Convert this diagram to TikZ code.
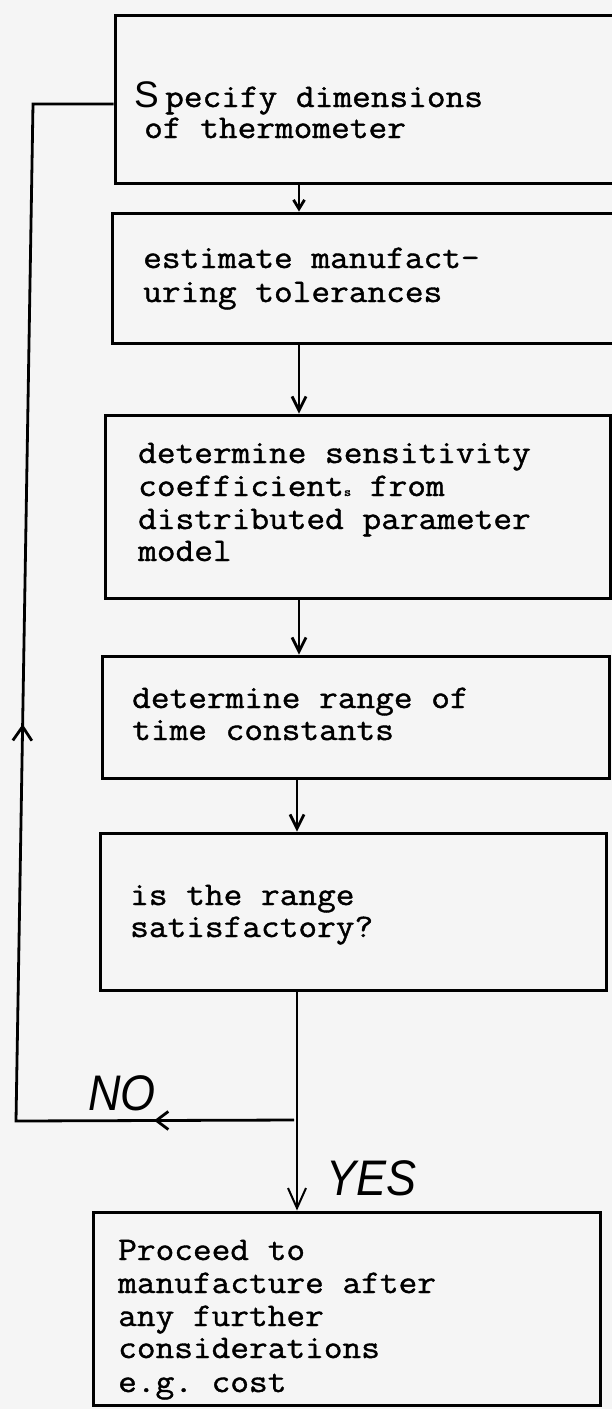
\documentclass[tikz,border=0pt]{standalone}
\usepackage{fontspec}
\setmonofont{Latin Modern Mono}[FakeStretch=1.1, FakeBold=1.2]
\newfontfamily\handfont{Liberation Sans}
\newfontfamily\handthin{Liberation Sans}[FakeStretch=0.9]
\usetikzlibrary{arrows.meta,decorations.markings}
\begin{document}
\begin{tikzpicture}[x=1pt,y=-1pt,
  box/.style 2 args={draw, line width=3pt, inner sep=0pt, minimum width=#1pt, minimum height=#2pt},
  txt/.style={anchor=base west, inner sep=0pt, font=\ttfamily\fontsize{33}{32}\selectfont},
  hand/.style={anchor=base west, inner sep=0pt, font=\handthin\itshape\fontsize{50}{50}\selectfont},
  conn/.style={line width=2.8pt},
  thin/.style={line width=2pt}]
\useasboundingbox (0,0) rectangle (612,1409);
\clip (0,0) rectangle (612,1409);
\fill[black!4] (0,0) rectangle (612,1409);
% boxes
\node[box={525}{168}] (b1) at (377.5,99) {};
\node[box={528}{130}] (b2) at (376,278) {};
\node[box={505}{183}] (b3) at (357.5,506.5) {};
\node[box={507}{122}] (b4) at (355.5,717) {};
\node[box={506}{157}] (b5) at (353,911.5) {};
\node[box={507}{193}] (b6) at (346.5,1308.5) {};
% texts
\node[anchor=base west, inner sep=0pt, font=\handfont\fontsize{37}{37}\selectfont] (t1s) at (134,107) {S};
\node[txt] (t1a) at (165,107) {pecify dimensions};
\node[txt] (t1b) at (144,138) {of thermometer};
\node[txt] (t2a) at (143,268) {estimate manufact-};
\node[txt] (t2b) at (143,302) {uring tolerances};
\node[txt] (t3a) at (138,463) {determine sensitivity};
\node[txt] (t3b) at (138,496) {coefficient{\bfseries\fontsize{13}{13}\selectfont s} from};
\node[txt] (t3c) at (138,529) {distributed parameter};
\node[txt] (t3d) at (138,561) {model};
\node[txt] (t4a) at (132,708) {determine range of};
\node[txt] (t4b) at (132,740) {time constants};
\node[txt] (t5a) at (130,905) {is the range};
\node[txt] (t5b) at (130,937) {satisfactory?};
\node[txt] (t6a) at (118,1260) {Proceed to};
\node[txt] (t6b) at (118,1293) {manufacture after};
\node[txt] (t6c) at (118,1326) {any further};
\node[txt] (t6d) at (118,1358) {considerations};
\node[txt] (t6e) at (118,1392) {e.g. cost};
\node[hand] (no) at (88,1110) {NO};
\node[hand] (yes) at (326,1195) {YES};
% connectors
\coordinate (ax) at (299,0);
\coordinate (ax2) at (297,0);
\coordinate (split) at (294,1120);
\coordinate (lb) at (16,1121);
\coordinate (lt) at (33,104);
\draw[conn,-{Straight Barb[length=9pt,width=11pt]}] (b1.south -| ax) -- (b2.north -| ax);
\draw[conn,-{Straight Barb[length=14pt,width=14pt]}] (b2.south -| ax) -- (b3.north -| ax);
\draw[conn,-{Straight Barb[length=14pt,width=14pt]}] (b3.south -| ax) -- (b4.north -| ax);
\draw[conn,-{Straight Barb[length=14pt,width=14pt]}] (b4.south -| ax2) -- (b5.north -| ax2);
\draw[thin,-{Straight Barb[length=20pt,width=18pt]}] (b5.south -| ax2) -- (b6.north -| ax2);
\draw[conn, postaction={decorate}, decoration={markings,
    mark=at position 140pt with {\arrow{Straight Barb[length=12pt,width=18pt]}},
    mark=at position 675pt with {\arrow{Straight Barb[length=14pt,width=19pt]}}}]
  (split) -- (lb) -- (lt) -- (lt -| b1.west);
\end{tikzpicture}
\end{document}
